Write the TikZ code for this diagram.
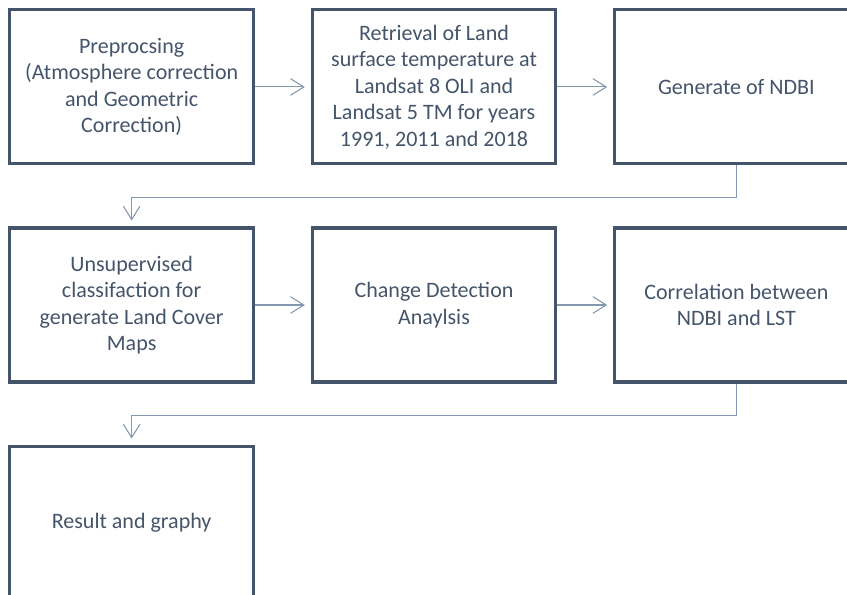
\documentclass[tikz,border=0pt]{standalone}
\usepackage{fontspec}
\setmainfont{Carlito}
\usetikzlibrary{arrows.meta,positioning}
\definecolor{boxline}{HTML}{44546A}
\definecolor{linkline}{HTML}{8497B0}

\begin{document}
\begin{tikzpicture}[
font=\fontsize{18.8}{22.6}\selectfont,
stepbox/.style={draw=boxline, line width=2.6pt, text=boxline, align=center,
    minimum width=7.3cm, minimum height=4.62cm},
link/.style={draw=linkline, line width=0.9pt,
    -{Straight Barb[length=0.4cm,width=0.5cm]}, shorten >=0.18cm},
node distance=1.83cm and 1.68cm,
]

\useasboundingbox (0,0) rectangle (25.41,-17.85);
\clip (0,0) rectangle (25.41,-17.85);

\node[stepbox] (prep) at (3.949,-2.609)
   {Preprocsing\\(Atmosphere correction\\and Geometric\\Correction)};
\node[stepbox, right=of prep] (lst)
   {Retrieval of Land\\surface temperature at\\Landsat 8 OLI and\\Landsat 5 TM for years\\1991, 2011 and 2018};
\node[stepbox, right=of lst] (ndbi) {Generate of NDBI};
\node[stepbox, below=of prep] (class)
   {Unsupervised\\classifaction for\\generate Land Cover\\Maps};
\node[stepbox, right=of class] (change) {Change Detection\\Anaylsis};
\node[stepbox, right=of change] (corr) {Correlation between\\NDBI and LST};
\node[stepbox, below=of class] (result) {Result and graphy};

\draw[link] (prep) -- (lst);
\draw[link] (lst) -- (ndbi);
\draw[link] (ndbi.south) -- ++(0,-0.95) -| (class.north);
\draw[link] (class) -- (change);
\draw[link] (change) -- (corr);
\draw[link] (corr.south) -- ++(0,-0.95) -| (result.north);

\end{tikzpicture}
\end{document}
